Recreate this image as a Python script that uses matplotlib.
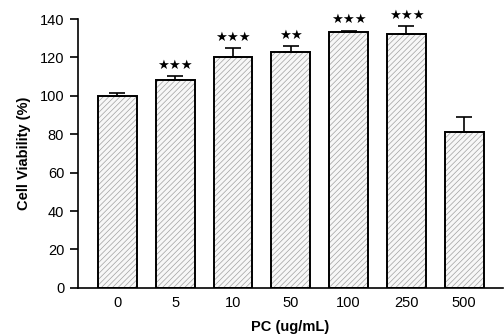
import matplotlib
matplotlib.use("Agg")
import matplotlib.pyplot as plt

plt.rcParams['font.family'] = ['Liberation Sans', 'DejaVu Sans']
plt.rcParams['hatch.linewidth'] = 0.5

categories = ['0', '5', '10', '50', '100', '250', '500']
values = [100, 108.5, 120, 123, 133, 132, 81]
errors = [1.5, 2, 5, 3, 1, 4.5, 8]
stars = ['', '★★★', '★★★', '★★', '★★★', '★★★', '']
yticks = [0, 20, 40, 60, 80, 100, 120, 140]

fig = plt.figure(figsize=(5.04, 3.34), dpi=100)
ax = fig.add_axes([0.155, 0.138, 0.843, 0.805])

x = list(range(len(categories)))
# hatched fill (gray hatch lines)
ax.bar(x, values, width=0.67, color='#f7f7f7', edgecolor='#a0a0a0', linewidth=0,
       hatch='//////', zorder=2)
# black outline
ax.bar(x, values, width=0.67, fill=False, edgecolor='black', linewidth=1.4, zorder=2.5)
ax.errorbar(x, values, yerr=[[0]*len(errors), errors], fmt='none', ecolor='black',
            elinewidth=1.2, capsize=6, capthick=1.2, zorder=3)

for xi, v, e, s in zip(x, values, errors, stars):
    if s:
        ax.text(xi, v + e + 2.2, s, ha='center', va='bottom', fontsize=9.5,
                family='DejaVu Sans', clip_on=False)

ax.set_xlim(-0.68, 6.67)
ax.set_ylim(0, 140)
ax.set_yticks(yticks)
ax.set_xticks(x)
ax.set_xticklabels(categories)
ax.spines['top'].set_visible(False)
ax.spines['right'].set_visible(False)
ax.spines['left'].set_linewidth(1.2)
ax.spines['bottom'].set_linewidth(1.2)
ax.tick_params(axis='y', direction='out', length=6, width=1.2, labelsize=10.5, pad=4)
ax.tick_params(axis='x', length=0, labelsize=10.5, pad=6)
ax.set_ylabel('Cell Viability (%)', fontsize=10.5, fontweight='bold', labelpad=6)
ax.set_xlabel('PC (ug/mL)', fontsize=10.5, fontweight='bold', labelpad=7)

fig.savefig('out.png', dpi=100)
